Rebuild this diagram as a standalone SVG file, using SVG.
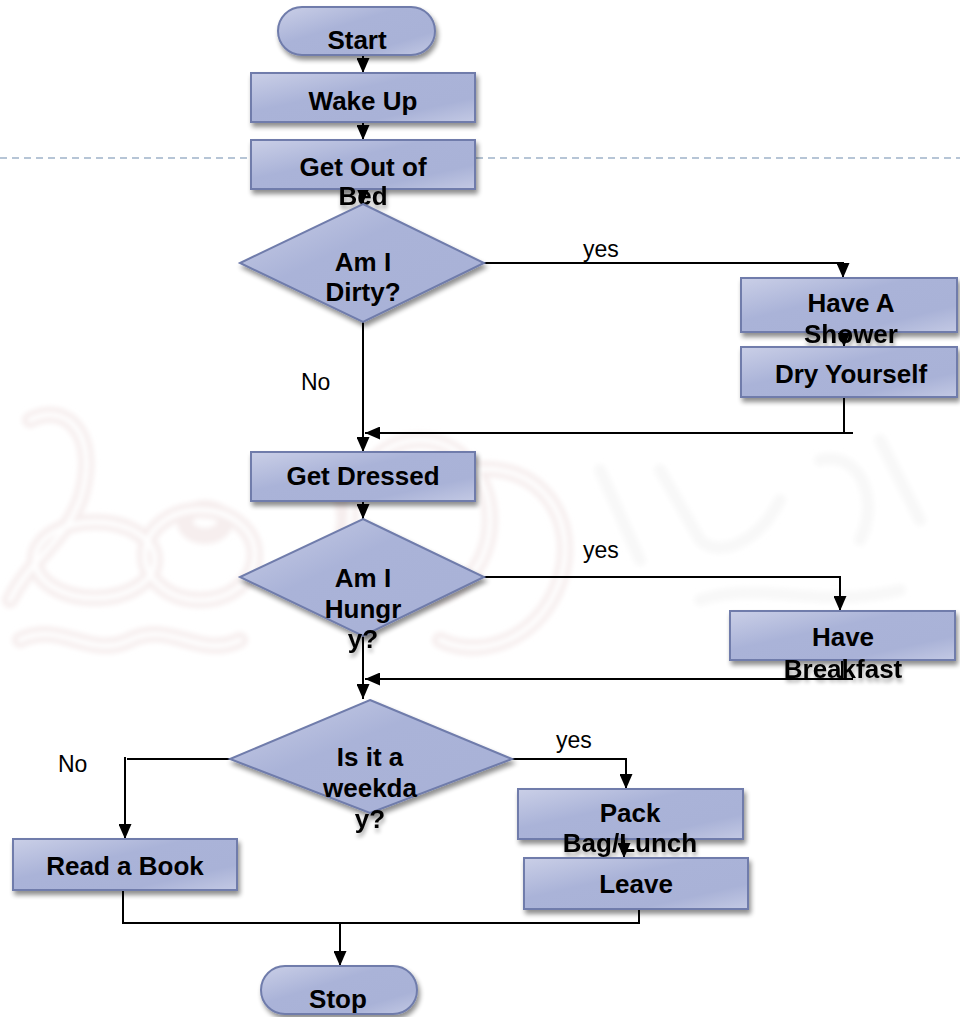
<svg xmlns="http://www.w3.org/2000/svg" width="960" height="1017" viewBox="0 0 960 1017">
  <defs>
    <linearGradient id="fillGrad" x1="0" y1="0" x2="1" y2="1">
      <stop offset="0" stop-color="#cacfe7"/>
      <stop offset="0.4" stop-color="#aab3d8"/>
      <stop offset="0.75" stop-color="#a9b2d7"/>
      <stop offset="1" stop-color="#c3c9e4"/>
    </linearGradient>
    <filter id="shadow" x="-10%" y="-20%" width="125%" height="160%">
      <feGaussianBlur in="SourceAlpha" stdDeviation="2.5"/>
      <feOffset dx="2" dy="4" result="b"/>
      <feComponentTransfer><feFuncA type="linear" slope="0.45"/></feComponentTransfer>
      <feMerge><feMergeNode/><feMergeNode in="SourceGraphic"/></feMerge>
    </filter>
    <filter id="textShadow" x="-10%" y="-30%" width="120%" height="180%">
      <feGaussianBlur in="SourceAlpha" stdDeviation="2"/>
      <feOffset dx="1" dy="4"/>
      <feComponentTransfer><feFuncA type="linear" slope="0.35"/></feComponentTransfer>
      <feMerge><feMergeNode/><feMergeNode in="SourceGraphic"/></feMerge>
    </filter>
    <filter id="soft"><feGaussianBlur stdDeviation="2.5"/></filter>
    <marker id="arrow" markerUnits="userSpaceOnUse" markerWidth="15" markerHeight="13" refX="15" refY="6.5" orient="auto">
      <path d="M0,0 L15,6.5 L0,13 z" fill="#000"/>
    </marker>
  </defs>
  <style>
    .shape { fill: url(#fillGrad); stroke: #6f7cab; stroke-width: 2; filter: url(#shadow); }
    .label { font-family: "Liberation Sans", Arial, sans-serif; font-weight: bold; font-size: 26px; fill: #000; text-anchor: middle; }
    .spill { filter: url(#textShadow); }
    .edge { font-family: "Liberation Sans", Arial, sans-serif; font-size: 23px; fill: #000; }
    .conn { fill: none; stroke: #000; stroke-width: 2; }
    .wm { fill: none; stroke: #f6eeee; stroke-width: 16; stroke-linecap: round; }
    .wm2 { fill: none; stroke: #ffffff; stroke-width: 5; stroke-linecap: round; }
    .wmg { fill: none; stroke: #f8f8f8; stroke-width: 12; stroke-linecap: round; }
  </style>

  <rect width="960" height="1017" fill="#ffffff"/>

  <!-- faint background emblem -->
  <g id="watermark" filter="url(#soft)">
    <path class="wm" d="M30,420 C70,400 100,440 80,500 C65,540 30,560 10,600"/>
    <ellipse class="wm" cx="95" cy="560" rx="60" ry="38"/>
    <ellipse class="wm" cx="200" cy="555" rx="55" ry="45"/>
    <ellipse class="wm" cx="205" cy="522" rx="20" ry="14"/>
    <ellipse class="wm" cx="420" cy="520" rx="70" ry="80"/>
    <path class="wm" d="M470,470 C540,460 580,520 560,580 C540,640 480,660 440,640"/>
    <path class="wm" d="M300,470 C340,470 360,520 330,560"/>
    <path class="wm" d="M20,640 C60,620 90,660 130,640 C170,620 200,660 240,640"/>
    <path class="wm2" d="M30,420 C70,400 100,440 80,500 C65,540 30,560 10,600"/>
    <ellipse class="wm2" cx="95" cy="560" rx="60" ry="38"/>
    <ellipse class="wm2" cx="200" cy="555" rx="55" ry="45"/>
    <ellipse class="wm2" cx="420" cy="520" rx="70" ry="80"/>
    <path class="wm2" d="M470,470 C540,460 580,520 560,580 C540,640 480,660 440,640"/>
    <path class="wm2" d="M20,640 C60,620 90,660 130,640 C170,620 200,660 240,640"/>
    <path class="wmg" d="M600,470 L640,560 M660,470 L700,540 C720,560 760,540 780,500 M820,460 C860,450 880,500 860,540 M700,600 C760,580 820,610 900,590 M880,440 L920,520"/>
  </g>

  <!-- dashed rule across the page -->
  <path d="M0,158 H250 M476,158 H960" stroke="#9eb2c9" stroke-width="1.5" stroke-dasharray="7,5" fill="none"/>

  <!-- connectors -->
  <g id="connectors">
    <path class="conn" marker-end="url(#arrow)" d="M363,55 V73"/>
    <path class="conn" marker-end="url(#arrow)" d="M363,122 V140"/>
    <path class="conn" marker-end="url(#arrow)" d="M363,189 V203"/>
    <path class="conn" marker-end="url(#arrow)" d="M483,263 H843 V278"/>
    <path class="conn" marker-end="url(#arrow)" d="M844,332 V347"/>
    <path class="conn" d="M844,397 V433"/>
    <path class="conn" marker-end="url(#arrow)" d="M853,433 H365"/>
    <path class="conn" marker-end="url(#arrow)" d="M363,322 V452"/>
    <path class="conn" marker-end="url(#arrow)" d="M363,501 V519"/>
    <path class="conn" marker-end="url(#arrow)" d="M483,577 H840 V611"/>
    <path class="conn" d="M842,660 V679"/>
    <path class="conn" marker-end="url(#arrow)" d="M853,679 H365"/>
    <path class="conn" marker-end="url(#arrow)" d="M363,636 V699"/>
    <path class="conn" d="M230,759 H127"/>
    <path class="conn" marker-end="url(#arrow)" d="M125,757 V839"/>
    <path class="conn" marker-end="url(#arrow)" d="M512,759 H626 V789"/>
    <path class="conn" marker-end="url(#arrow)" d="M624,839 V858"/>
    <path class="conn" d="M123,890 V923 H639 V909"/>
    <path class="conn" marker-end="url(#arrow)" d="M340,923 V966"/>
    <text class="edge" x="583" y="257">yes</text>
    <text class="edge" x="301" y="390">No</text>
    <text class="edge" x="583" y="558">yes</text>
    <text class="edge" x="556" y="748">yes</text>
    <text class="edge" x="58" y="772">No</text>
  </g>

  <!-- nodes -->
  <g id="start">
    <rect class="shape" x="278" y="7" width="157" height="48" rx="24"/>
    <text class="label" x="357" y="49">Start</text>
  </g>
  <g id="wake-up">
    <rect class="shape" x="251" y="73" width="224" height="49"/>
    <text class="label" x="363" y="110">Wake Up</text>
  </g>
  <g id="get-out-of-bed">
    <rect class="shape" x="251" y="140" width="224" height="49"/>
    <text class="label" x="363" y="176">Get Out of</text>
    <text class="label spill" x="363" y="205">Bed</text>
  </g>
  <g id="am-i-dirty">
    <polygon class="shape" points="363,204 484,263 363,322 240,263"/>
    <text class="label" x="363" y="271">Am I</text>
    <text class="label" x="363" y="301">Dirty?</text>
  </g>
  <g id="have-a-shower">
    <rect class="shape" x="741" y="278" width="216" height="54"/>
    <text class="label" x="851" y="312">Have A</text>
    <text class="label spill" x="851" y="343">Shower</text>
  </g>
  <g id="dry-yourself">
    <rect class="shape" x="741" y="347" width="216" height="50"/>
    <text class="label" x="851" y="383">Dry Yourself</text>
  </g>
  <g id="get-dressed">
    <rect class="shape" x="251" y="452" width="224" height="49"/>
    <text class="label" x="363" y="485">Get Dressed</text>
  </g>
  <g id="am-i-hungry">
    <polygon class="shape" points="363,519 484,577 363,636 240,577"/>
    <text class="label" x="363" y="587">Am I</text>
    <text class="label" x="363" y="618">Hungr</text>
    <text class="label spill" x="363" y="648">y?</text>
  </g>
  <g id="have-breakfast">
    <rect class="shape" x="730" y="611" width="225" height="49"/>
    <text class="label" x="843" y="646">Have</text>
    <text class="label spill" x="843" y="678">Breakfast</text>
  </g>
  <g id="is-it-a-weekday">
    <polygon class="shape" points="370,700 512,759 370,813 230,759"/>
    <text class="label" x="370" y="766">Is it a</text>
    <text class="label" x="370" y="797">weekda</text>
    <text class="label spill" x="370" y="828">y?</text>
  </g>
  <g id="read-a-book">
    <rect class="shape" x="13" y="839" width="224" height="51"/>
    <text class="label" x="125" y="875">Read a Book</text>
  </g>
  <g id="pack-bag-lunch">
    <rect class="shape" x="518" y="789" width="225" height="50"/>
    <text class="label" x="630" y="822">Pack</text>
    <text class="label spill" x="630" y="852">Bag/Lunch</text>
  </g>
  <g id="leave">
    <rect class="shape" x="524" y="858" width="224" height="51"/>
    <text class="label" x="636" y="893">Leave</text>
  </g>
  <g id="stop">
    <rect class="shape" x="261" y="966" width="156" height="48" rx="24"/>
    <text class="label" x="338" y="1008">Stop</text>
  </g>
</svg>
